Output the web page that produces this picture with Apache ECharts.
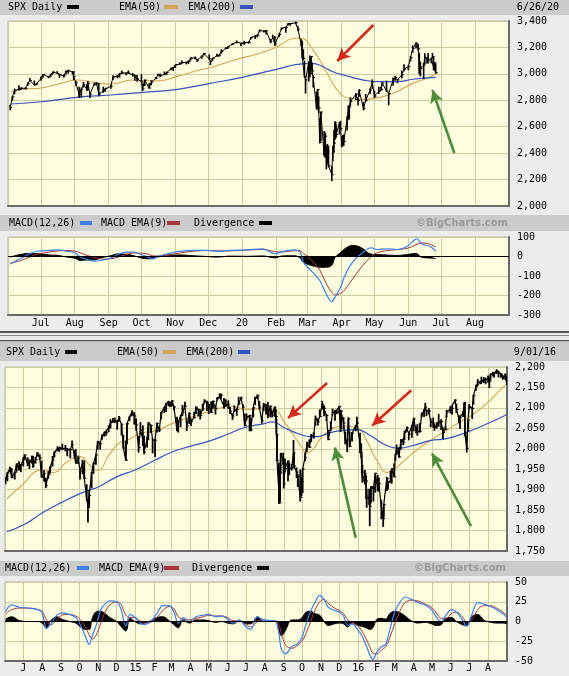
<!DOCTYPE html>
<html><head><meta charset="utf-8">
<script src="https://cdn.jsdelivr.net/npm/echarts@6/dist/echarts.min.js"></script>
<style>html,body{margin:0;padding:0;background:#ececec;}#c{width:569px;height:676px;}</style>
</head><body><div id="c"></div>
<script>
// ---------------- DATA ----------------
const topMonthNames = ['Jan','Feb','Mar','Apr','May','Jun','Jul','Aug','Sep','Oct','Nov','Dec'];
const botMonthNames = ['J','F','M','A','M','J','J','A','S','O','N','D'];
const topPriceTicks = {min: 2000, max: 3400, step: 200};
const topMacdTicks = {min: -300, max: 100, step: 100};
const botPriceTicks = {min: 1750, max: 2200, step: 50};
const botMacdTicks = {min: -50, max: 50, step: 25};
const topRange = ['2019-06-01', '2020-09-01'];
const botRange = ['2014-06-01', '2016-09-01'];

// [date, high, low, close]
const topBars = [
['2019-06-03',2763,2728,2744],['2019-06-05',2827,2800,2826],['2019-06-07',2885,2850,2873],['2019-06-11',2910,2878,2885],
['2019-06-13',2895,2881,2891],['2019-06-17',2895,2885,2890],['2019-06-19',2931,2912,2926],['2019-06-21',2964,2946,2950],
['2019-06-25',2946,2916,2917],['2019-06-27',2929,2918,2924],['2019-07-01',2977,2952,2964],['2019-07-03',2996,2974,2996],
['2019-07-08',2980,2970,2976],['2019-07-10',2997,2980,2993],['2019-07-12',3014,3001,3014],['2019-07-16',3017,3003,3004],
['2019-07-18',2997,2975,2995],['2019-07-22',2990,2976,2985],['2019-07-24',3019,2999,3019],['2019-07-26',3028,3007,3026],
['2019-07-30',3017,3000,3013],['2019-07-31',3017,2958,2980],['2019-08-02',2945,2914,2932],['2019-08-05',2898,2822,2844],
['2019-08-07',2892,2825,2884],['2019-08-09',2935,2900,2919],['2019-08-12',2917,2874,2883],['2019-08-13',2943,2877,2926],
['2019-08-15',2857,2822,2848],['2019-08-19',2931,2913,2924],['2019-08-21',2934,2918,2924],['2019-08-23',2927,2834,2847],
['2019-08-27',2899,2860,2869],['2019-08-29',2890,2870,2888],['2019-09-03',2914,2891,2906],['2019-09-05',2985,2957,2977],
['2019-09-09',2989,2970,2979],['2019-09-11',3002,2976,3001],['2019-09-13',3021,3003,3007],['2019-09-17',3006,2993,3006],
['2019-09-19',3022,3006,3006],['2019-09-23',3003,2983,2992],['2019-09-25',2989,2952,2984],['2019-09-27',2988,2945,2962],
['2019-10-01',2993,2938,2940],['2019-10-02',2925,2874,2887],['2019-10-04',2953,2911,2953],['2019-10-08',2925,2892,2893],
['2019-10-10',2948,2917,2938],['2019-10-14',2972,2962,2966],['2019-10-16',2997,2986,2990],['2019-10-18',2998,2979,2986],
['2019-10-22',3014,2994,2996],['2019-10-24',3012,2998,3010],['2019-10-28',3044,3032,3039],['2019-10-30',3050,3026,3047],
['2019-11-01',3067,3050,3067],['2019-11-05',3084,3072,3075],['2019-11-07',3097,3080,3085],['2019-11-11',3088,3075,3087],
['2019-11-13',3098,3079,3094],['2019-11-15',3120,3104,3120],['2019-11-19',3127,3113,3120],['2019-11-21',3110,3094,3103],
['2019-11-25',3133,3117,3133],['2019-11-27',3154,3143,3154],['2019-12-02',3144,3110,3113],['2019-12-03',3094,3070,3093],
['2019-12-05',3119,3103,3117],['2019-12-09',3148,3135,3136],['2019-12-11',3143,3133,3142],['2019-12-13',3182,3156,3169],
['2019-12-17',3198,3191,3192],['2019-12-19',3206,3192,3205],['2019-12-23',3227,3221,3224],['2019-12-27',3248,3235,3240],
['2019-12-31',3231,3213,3231],['2020-01-03',3246,3223,3235],['2020-01-07',3244,3232,3237],['2020-01-09',3275,3263,3275],
['2020-01-13',3288,3268,3288],['2020-01-15',3298,3280,3289],['2020-01-17',3330,3318,3330],['2020-01-21',3329,3316,3321],
['2020-01-23',3326,3302,3326],['2020-01-27',3259,3235,3244],['2020-01-29',3293,3271,3273],['2020-01-31',3282,3214,3226],
['2020-02-04',3306,3281,3298],['2020-02-06',3347,3334,3345],['2020-02-10',3352,3314,3352],['2020-02-12',3381,3369,3379],
['2020-02-14',3381,3367,3380],['2020-02-19',3393,3378,3386],['2020-02-21',3360,3328,3338],['2020-02-24',3259,3215,3226],
['2020-02-25',3247,3118,3128],['2020-02-26',3182,3108,3116],['2020-02-27',3097,2977,2979],['2020-02-28',2959,2855,2954],
['2020-03-02',3091,2946,3090],['2020-03-03',3136,2976,3003],['2020-03-04',3130,3034,3130],['2020-03-05',3083,2999,3023],
['2020-03-06',2985,2901,2972],['2020-03-09',2863,2734,2746],['2020-03-10',2882,2734,2882],['2020-03-11',2825,2707,2741],
['2020-03-12',2660,2478,2481],['2020-03-13',2711,2493,2711],['2020-03-16',2563,2380,2386],['2020-03-17',2553,2367,2529],
['2020-03-18',2454,2281,2398],['2020-03-19',2466,2319,2409],['2020-03-20',2453,2295,2305],['2020-03-23',2300,2192,2237],
['2020-03-24',2450,2345,2447],['2020-03-25',2571,2407,2476],['2020-03-26',2638,2506,2630],['2020-03-27',2615,2520,2541],
['2020-03-30',2631,2545,2627],['2020-03-31',2641,2571,2585],['2020-04-01',2522,2448,2471],['2020-04-02',2533,2455,2527],
['2020-04-03',2538,2459,2489],['2020-04-06',2676,2575,2664],['2020-04-07',2756,2657,2659],['2020-04-08',2760,2663,2750],
['2020-04-09',2819,2762,2790],['2020-04-14',2851,2805,2846],['2020-04-16',2806,2764,2800],['2020-04-17',2879,2830,2875],
['2020-04-21',2785,2728,2737],['2020-04-23',2844,2791,2798],['2020-04-27',2887,2852,2878],['2020-04-29',2954,2891,2940],
['2020-05-01',2869,2821,2831],['2020-05-05',2898,2852,2868],['2020-05-07',2901,2876,2881],['2020-05-08',2932,2913,2930],
['2020-05-12',2945,2869,2870],['2020-05-14',2853,2766,2852],['2020-05-18',2968,2913,2954],['2020-05-20',2980,2953,2972],
['2020-05-22',2957,2933,2955],['2020-05-26',3021,2969,2992],['2020-05-28',3068,3023,3036],['2020-06-01',3062,3031,3056],
['2020-06-03',3130,3098,3122],['2020-06-05',3211,3163,3193],['2020-06-08',3233,3196,3232],['2020-06-10',3223,3181,3190],
['2020-06-11',3155,3001,3002],['2020-06-12',3088,2984,3041],['2020-06-15',3079,2966,3067],['2020-06-16',3153,3076,3125],
['2020-06-18',3120,3082,3115],['2020-06-19',3155,3083,3098],['2020-06-22',3118,3083,3118],['2020-06-23',3154,3122,3131],
['2020-06-24',3128,3032,3050],['2020-06-25',3083,3024,3083],['2020-06-26',3073,3004,3009]
];
const topEma50 = [
['2019-06-04',2865],['2019-06-16',2885],['2019-07-01',2893],['2019-07-18',2925],['2019-08-03',2953],['2019-08-24',2928],
['2019-09-03',2923],['2019-09-23',2953],['2019-10-15',2946],['2019-11-02',2979],['2019-11-23',3029],['2019-12-06',3054],
['2019-12-25',3105],['2020-01-17',3156],['2020-02-02',3206],['2020-02-18',3269],['2020-02-23',3270],['2020-03-06',3180],
['2020-03-18',3016],['2020-03-28',2878],['2020-04-08',2815],['2020-04-20',2807],['2020-05-06',2822],['2020-05-21',2865],
['2020-06-05',2928],['2020-06-18',2966],['2020-06-26',2999]
];
const topEma200 = [
['2019-06-04',2772],['2019-07-01',2789],['2019-08-03',2822],['2019-09-03',2840],['2019-10-02',2860],['2019-11-03',2883],
['2019-12-03',2928],['2020-01-01',2974],['2020-02-05',3042],['2020-02-19',3070],['2020-03-05',3080],['2020-03-15',3054],
['2020-03-24',3016],['2020-04-06',2984],['2020-04-21',2953],['2020-05-06',2941],['2020-05-22',2941],['2020-06-05',2959],
['2020-06-26',2974]
];
const topMacdDates = [
'2019-06-03','2019-06-12','2019-06-21','2019-06-28','2019-07-09','2019-07-16','2019-07-24','2019-08-01','2019-08-06','2019-08-12',
'2019-08-19','2019-08-27','2019-09-03','2019-09-09','2019-09-17','2019-09-24','2019-10-01','2019-10-07','2019-10-11','2019-10-17',
'2019-10-25','2019-11-05','2019-11-17','2019-11-30','2019-12-09','2019-12-21','2020-01-05','2020-01-20','2020-01-31','2020-02-07',
'2020-02-18','2020-02-23','2020-02-26','2020-03-01','2020-03-07','2020-03-12','2020-03-18','2020-03-23','2020-03-26','2020-03-31',
'2020-04-04','2020-04-11','2020-04-19','2020-04-28','2020-05-03','2020-05-12','2020-05-21','2020-05-31','2020-06-07','2020-06-09',
'2020-06-13','2020-06-21','2020-06-26'];
const topMacd = [-38,-12,14,27,31,34,28,19,-3,-15, -24,-17,-8,9,22,22,9,-3,-12,2, 14,26,31,31,26,31,34,39,14,26,
 34,22,-29,-55,-89,-123,-192,-232,-209,-158, -98,-29,14,45,36,39,36,53,87,91, 65,51,27];
const topSignal = [-35,-22,-2,12,23,28,31,28,19,6, -5,-13,-12,-4,10,18,17,12,4,2, 6,18,27,31,29,29,33,36,25,23,
 30,30,15,0,-35,-70,-140,-185,-197,-190, -170,-115,-55,0,18,30,35,42,58,63, 70,62,48];
const topDiv = [-3,10,16,15,8,6,-2,-9,-20,-18, -17,-4,4,13,12,4,-8,-12,-10,0, 8,8,4,0,-3,2,1,3,-7,3,
 4,-8,-30,-40,-50,-55,-55,-45,-5,20, 40,57,45,12,10,8,5,10,15,14, -4,-8,-10];

const botBars = [
['2014-06-02',1929,1915,1925],['2014-06-05',1942,1922,1941],['2014-06-09',1955,1944,1951],['2014-06-12',1951,1929,1930],
['2014-06-17',1943,1926,1942],['2014-06-20',1963,1945,1963],['2014-06-24',1968,1948,1949],['2014-06-27',1961,1944,1961],
['2014-07-01',1978,1958,1973],['2014-07-03',1985,1975,1985],['2014-07-08',1978,1959,1963],['2014-07-11',1973,1952,1968],
['2014-07-15',1982,1965,1973],['2014-07-17',1982,1955,1958],['2014-07-21',1979,1965,1974],['2014-07-24',1991,1982,1988],
['2014-07-28',1985,1974,1978],['2014-07-31',1970,1930,1931],['2014-08-04',1946,1921,1939],['2014-08-07',1928,1905,1910],
['2014-08-11',1944,1928,1936],['2014-08-14',1955,1940,1955],['2014-08-18',1981,1958,1972],['2014-08-21',1993,1980,1992],
['2014-08-26',2005,1995,2000],['2014-08-29',2004,1994,2003],['2014-09-03',2011,1998,2000],['2014-09-08',2008,1995,2001],
['2014-09-11',1998,1983,1997],['2014-09-16',1999,1978,1998],['2014-09-19',2019,2006,2010],['2014-09-23',1995,1978,1982],
['2014-09-25',1998,1965,1965],['2014-09-29',1982,1964,1977],['2014-10-02',1952,1926,1946],['2014-10-06',1972,1939,1964],
['2014-10-09',1970,1927,1928],['2014-10-13',1912,1874,1874],['2014-10-15',1878,1821,1862],['2014-10-17',1898,1856,1886],
['2014-10-21',1942,1905,1941],['2014-10-24',1965,1940,1964],['2014-10-28',1985,1962,1985],['2014-10-31',2018,1999,2018],
['2014-11-04',2014,1999,2012],['2014-11-07',2034,2023,2032],['2014-11-11',2041,2031,2039],['2014-11-14',2042,2033,2040],
['2014-11-18',2056,2042,2052],['2014-11-21',2071,2051,2064],['2014-11-25',2074,2065,2067],['2014-11-28',2075,2064,2068],
['2014-12-02',2068,2048,2067],['2014-12-05',2079,2068,2075],['2014-12-09',2060,2034,2060],['2014-12-12',2033,2002,2002],
['2014-12-16',2018,1972,1972],['2014-12-18',2062,2012,2061],['2014-12-22',2078,2069,2078],['2014-12-26',2093,2081,2089],
['2014-12-30',2088,2060,2080],['2015-01-02',2073,2046,2058],['2015-01-06',2030,1992,2003],['2015-01-09',2064,2037,2045],
['2015-01-13',2056,2008,2023],['2015-01-15',2031,1988,1992],['2015-01-20',2028,2004,2023],['2015-01-22',2064,2022,2063],
['2015-01-26',2058,2040,2057],['2015-01-29',2024,1990,2021],['2015-02-02',2022,1981,2021],['2015-02-05',2063,2041,2062],
['2015-02-09',2052,2042,2046],['2015-02-12',2089,2073,2088],['2015-02-17',2101,2089,2100],['2015-02-20',2111,2091,2110],
['2015-02-24',2116,2105,2115],['2015-02-27',2113,2103,2105],['2015-03-02',2118,2105,2117],['2015-03-05',2104,2095,2102],
['2015-03-10',2077,2044,2044],['2015-03-12',2066,2041,2065],['2015-03-16',2081,2054,2081],['2015-03-19',2106,2082,2089],
['2015-03-23',2114,2103,2104],['2015-03-26',2067,2045,2056],['2015-03-30',2088,2062,2086],['2015-04-02',2072,2057,2067],
['2015-04-07',2089,2076,2076],['2015-04-10',2102,2086,2102],['2015-04-14',2097,2080,2095],['2015-04-17',2095,2073,2081],
['2015-04-21',2109,2094,2097],['2015-04-24',2120,2112,2117],['2015-04-28',2116,2094,2114],['2015-05-01',2108,2086,2108],
['2015-05-05',2115,2089,2089],['2015-05-08',2117,2099,2116],['2015-05-12',2105,2085,2099],['2015-05-15',2125,2119,2123],
['2015-05-19',2134,2124,2127],['2015-05-21',2134,2122,2131],['2015-05-26',2123,2099,2104],['2015-05-29',2120,2104,2107],
['2015-06-02',2117,2099,2109],['2015-06-05',2101,2086,2092],['2015-06-09',2085,2072,2080],['2015-06-12',2105,2091,2094],
['2015-06-16',2097,2082,2096],['2015-06-19',2126,2108,2110],['2015-06-23',2126,2121,2124],['2015-06-26',2108,2101,2102],
['2015-06-29',2085,2056,2057],['2015-07-02',2085,2071,2077],['2015-07-07',2082,2044,2081],['2015-07-09',2074,2044,2046],
['2015-07-13',2100,2078,2100],['2015-07-16',2126,2108,2124],['2015-07-20',2132,2123,2129],['2015-07-23',2116,2098,2102],
['2015-07-27',2075,2063,2068],['2015-07-30',2111,2093,2109],['2015-08-03',2108,2085,2099],['2015-08-06',2113,2076,2083],
['2015-08-10',2105,2078,2104],['2015-08-13',2092,2078,2083],['2015-08-17',2102,2079,2102],['2015-08-19',2096,2070,2079],
['2015-08-20',2071,2035,2035],['2015-08-21',2034,1971,1971],['2015-08-24',1965,1867,1893],['2015-08-25',1948,1867,1868],
['2015-08-26',1943,1872,1940],['2015-08-27',1989,1942,1988],['2015-08-31',1989,1962,1972],['2015-09-01',1946,1904,1914],
['2015-09-03',1975,1944,1952],['2015-09-08',1970,1922,1970],['2015-09-10',1965,1937,1952],['2015-09-14',1962,1948,1953],
['2015-09-17',2020,1973,1990],['2015-09-18',1989,1953,1958],['2015-09-22',1953,1930,1943],['2015-09-24',1937,1908,1932],
['2015-09-28',1948,1872,1881],['2015-09-30',1925,1885,1920],['2015-10-02',1951,1893,1951],['2015-10-06',1989,1971,1979],
['2015-10-09',2016,1994,2014],['2015-10-13',2022,2003,2004],['2015-10-16',2035,2017,2033],['2015-10-20',2039,2026,2030],
['2015-10-23',2080,2058,2075],['2015-10-27',2073,2058,2066],['2015-10-30',2095,2079,2079],['2015-11-03',2116,2097,2109],
['2015-11-06',2105,2081,2099],['2015-11-10',2084,2069,2081],['2015-11-13',2045,2022,2023],['2015-11-17',2066,2045,2051],
['2015-11-20',2097,2083,2089],['2015-11-24',2094,2070,2089],['2015-11-27',2094,2086,2090],['2015-12-01',2104,2086,2103],
['2015-12-03',2094,2042,2049],['2015-12-04',2093,2051,2092],['2015-12-08',2076,2049,2063],['2015-12-11',2041,2012,2012],
['2015-12-14',2023,1993,2022],['2015-12-16',2076,2042,2073],['2015-12-18',2041,2005,2006],['2015-12-22',2040,2019,2038],
['2015-12-28',2057,2044,2056],['2015-12-30',2077,2061,2063],['2016-01-04',2038,1990,2012],['2016-01-06',2011,1979,1990],
['2016-01-07',1985,1938,1943],['2016-01-08',1960,1918,1922],['2016-01-12',1947,1914,1939],['2016-01-14',1934,1878,1921],
['2016-01-15',1901,1857,1880],['2016-01-19',1901,1864,1881],['2016-01-20',1876,1812,1859],['2016-01-22',1908,1868,1907],
['2016-01-26',1906,1872,1903],['2016-01-29',1940,1894,1940],['2016-02-02',1935,1897,1903],['2016-02-04',1928,1897,1915],
['2016-02-08',1874,1829,1854],['2016-02-11',1848,1810,1829],['2016-02-12',1864,1833,1864],['2016-02-17',1930,1898,1927],
['2016-02-19',1918,1902,1918],['2016-02-23',1945,1918,1921],['2016-02-25',1951,1916,1951],['2016-02-29',1963,1931,1932],
['2016-03-02',1986,1972,1986],['2016-03-04',2009,1989,2000],['2016-03-08',2002,1979,1980],['2016-03-11',2022,1999,2022],
['2016-03-15',2024,2010,2016],['2016-03-17',2043,2022,2040],['2016-03-21',2053,2043,2051],['2016-03-24',2036,2022,2036],
['2016-03-29',2057,2028,2056],['2016-04-01',2075,2044,2073],['2016-04-05',2053,2039,2045],['2016-04-07',2059,2033,2041],
['2016-04-11',2062,2041,2042],['2016-04-14',2087,2078,2083],['2016-04-18',2096,2079,2094],['2016-04-20',2111,2096,2102],
['2016-04-22',2094,2081,2092],['2016-04-26',2098,2085,2092],['2016-04-29',2073,2054,2065],['2016-05-03',2075,2053,2063],
['2016-05-05',2060,2045,2051],['2016-05-09',2064,2051,2059],['2016-05-12',2084,2055,2064],['2016-05-16',2071,2047,2067],
['2016-05-19',2051,2025,2040],['2016-05-23',2055,2047,2048],['2016-05-25',2094,2078,2090],['2016-05-31',2103,2088,2097],
['2016-06-03',2105,2085,2099],['2016-06-08',2120,2112,2119],['2016-06-10',2109,2089,2096],['2016-06-14',2081,2064,2075],
['2016-06-16',2078,2050,2077],['2016-06-21',2091,2079,2088],['2016-06-23',2113,2094,2113],['2016-06-24',2113,2032,2037],
['2016-06-27',2032,1992,2001],['2016-06-29',2070,2044,2070],['2016-07-01',2108,2097,2103],['2016-07-06',2100,2074,2099],
['2016-07-08',2131,2109,2130],['2016-07-12',2155,2143,2152],['2016-07-15',2169,2155,2162],['2016-07-19',2164,2159,2164],
['2016-07-21',2175,2160,2165],['2016-07-25',2174,2162,2169],['2016-07-28',2173,2159,2170],['2016-08-01',2178,2163,2171],
['2016-08-03',2165,2150,2164],['2016-08-05',2183,2168,2183],['2016-08-09',2187,2178,2181],['2016-08-11',2185,2175,2185],
['2016-08-15',2193,2184,2191],['2016-08-18',2188,2176,2187],['2016-08-22',2184,2175,2182],['2016-08-25',2179,2170,2172],
['2016-08-29',2183,2170,2180],['2016-08-31',2177,2165,2171],['2016-09-01',2173,2157,2170]
];
const botEma50 = [
['2014-06-04',1877],['2014-06-25',1906],['2014-08-02',1948],['2014-08-19',1942],['2014-09-10',1967],['2014-10-02',1981],
['2014-10-18',1959],['2014-10-30',1947],['2014-11-20',1988],['2014-12-07',2016],['2014-12-18',2020],['2015-01-08',2037],
['2015-02-05',2045],['2015-03-10',2067],['2015-04-05',2078],['2015-05-08',2094],['2015-06-05',2104],['2015-07-03',2096],
['2015-07-29',2098],['2015-08-18',2094],['2015-09-02',2065],['2015-09-16',2035],['2015-09-30',2005],['2015-10-08',1990],
['2015-10-20',2000],['2015-10-31',2025],['2015-11-15',2045],['2015-12-07',2055],['2015-12-30',2052],['2016-01-15',2020],
['2016-01-25',1989],['2016-02-01',1971],['2016-02-17',1942],['2016-03-04',1955],['2016-03-26',1984],['2016-04-16',2008],
['2016-04-28',2020],['2016-05-25',2045],['2016-06-21',2070],['2016-07-02',2078],['2016-07-30',2111],['2016-08-26',2152],
['2016-09-01',2158]
];
const botEma200 = [
['2014-06-04',1797],['2014-07-04',1816],['2014-08-02',1844],['2014-09-02',1869],['2014-09-30',1889],['2014-10-17',1899],
['2014-10-31',1906],['2014-12-02',1932],['2014-12-31',1948],['2015-01-30',1970],['2015-03-02',1992],['2015-03-31',2006],
['2015-04-30',2018],['2015-05-31',2035],['2015-06-29',2052],['2015-07-29',2061],['2015-08-14',2066],['2015-09-01',2052],
['2015-10-02',2033],['2015-10-19',2029],['2015-11-27',2043],['2015-12-30',2047],['2016-01-20',2033],['2016-02-17',2008],
['2016-03-09',2002],['2016-03-31',2008],['2016-04-28',2020],['2016-05-25',2025],['2016-06-21',2037],['2016-07-24',2057],
['2016-09-01',2084]
];
const botMacdDates = [
'2014-06-02','2014-06-12','2014-06-25','2014-07-10','2014-07-25','2014-08-01','2014-08-08','2014-08-15','2014-08-25','2014-09-02',
'2014-09-15','2014-09-25','2014-10-03','2014-10-10','2014-10-17','2014-10-22','2014-10-28','2014-11-05','2014-11-12','2014-11-20',
'2014-12-01','2014-12-08','2014-12-16','2014-12-23','2014-12-31','2015-01-08','2015-01-16','2015-01-26','2015-02-05','2015-02-15',
'2015-02-25','2015-03-05','2015-03-12','2015-03-20','2015-03-30','2015-04-10','2015-04-22','2015-05-01','2015-05-12','2015-05-22',
'2015-06-01','2015-06-10','2015-06-20','2015-06-30','2015-07-09','2015-07-20','2015-07-30','2015-08-10','2015-08-18','2015-08-24',
'2015-08-28','2015-09-04','2015-09-14','2015-09-24','2015-10-01','2015-10-08','2015-10-15','2015-10-22','2015-10-30','2015-11-06',
'2015-11-13','2015-11-23','2015-12-01','2015-12-08','2015-12-15','2015-12-22','2015-12-31','2016-01-07','2016-01-14','2016-01-20',
'2016-01-25','2016-02-01','2016-02-08','2016-02-15','2016-02-22','2016-03-01','2016-03-10','2016-03-18','2016-03-28','2016-04-08',
'2016-04-20','2016-04-30','2016-05-08','2016-05-16','2016-05-24','2016-06-02','2016-06-10','2016-06-20','2016-06-27','2016-07-05',
'2016-07-15','2016-07-25','2016-08-05','2016-08-15','2016-08-25','2016-09-01'];
const botMacd = [13,21,18,17,15,11,-9,-3,8,11, 9,5,-5,-17,-29,-18,-6,15,22,26, 25,16,-6,9,5,-2,-4,0,10,20,
 20,12,-2,5,0,6,8,9,6,7, 3,-2,2,-6,-10,6,2,1,1,-15, -35,-41,-32,-28,-20,-2,13,24,33,28,
 18,14,12,7,-5,-3,-10,-18,-30,-42, -48,-38,-32,-29,-10,12,25,31,28,24, 21,15,6,0,8,15,12,2,-6,8, 24,22,19,15,10,5];
const botSignal = [10,15,17,17,15,13,2,-4,2,8, 9,7,2,-6,-17,-22,-18,-2,12,21, 25,22,8,5,5,1,-2,-1,5,14,
 19,16,6,3,2,4,6,8,7,7, 5,1,1,-3,-7,0,2,1,1,-4, -15,-30,-34,-30,-25,-14,0,14,25,28,
 23,17,14,10,2,-1,-5,-12,-22,-32, -40,-41,-36,-32,-20,-3,14,24,27,26, 22,18,11,4,4,10,12,6,-1,2, 15,20,20,17,12,8];
const botDiv = [3,6,1,0,0,-2,-8,1,6,3, 0,-2,-7,-10,-10,4,12,13,10,5, 0,-6,-12,4,0,-3,-2,1,5,6,
 1,-4,-8,2,-2,2,2,1,-1,0, -2,-3,1,-3,-3,6,0,0,0,-11, -18,-11,2,2,5,12,13,10,8,0,
 -5,-3,-2,-3,-7,-2,-5,-6,-8,-10, -8,3,4,3,10,13,11,7,1,-2, -1,-3,-5,-4,4,5,0,-4,-5,6, 9,2,-1,-2,-2,-3];

// annotation arrows, in data coordinates [date, price]
const RED = '#d42a1e', GREEN = '#4e8c3a';
const topArrows = [
  {from: ['2020-04-30', 3370], to: ['2020-03-28', 3097], color: RED},
  {from: ['2020-07-13', 2401], to: ['2020-06-23', 2878], color: GREEN}
];
const botArrows = [
  {from: ['2015-11-11', 2161], to: ['2015-09-08', 2075], color: RED},
  {from: ['2016-03-28', 2143], to: ['2016-01-24', 2057], color: RED},
  {from: ['2015-12-28', 1782], to: ['2015-11-24', 2003], color: GREEN},
  {from: ['2016-07-04', 1811], to: ['2016-05-01', 1989], color: GREEN}
];

// ---------------- STYLE ----------------
const DAY = 86400000;
const MONO = 'DejaVu Sans Mono';
const PLOT_BG = '#fdfddf', GRID_C = '#cdcda4', BORDER_C = '#b4b4a0', AXIS_C = '#6a6a6a';
const EMA50_C = '#d6a552', EMA200_C = '#3552c0', MACD_C = '#3d7ff0', SIG_C = '#a8343e';

const chart = echarts.init(document.getElementById('c'), null, {width: 569, height: 676});

function localTs(s) { const p = s.split('-').map(Number); return new Date(p[0], p[1] - 1, p[2]).getTime(); }
function yearLbl(d) { return String(d.getFullYear()).slice(2); }
function monthFmt(names, range) {
  const lo = localTs(range[0]), hi = localTs(range[1]);
  return v => {
    if (v <= lo + DAY / 2 || v >= hi - DAY / 2) return '';
    const d = new Date(v);
    return d.getMonth() === 0 ? yearLbl(d) : names[d.getMonth()];
  };
}
const fmtNum = v => String(v).replace(/\B(?=(\d{3})+(?!\d))/g, ',');

function grid(left, top, width, height) {
  return {left, top, width, height, show: true, backgroundColor: PLOT_BG, borderColor: BORDER_C, borderWidth: 1,
          containLabel: false, outerBoundsMode: 'none'};
}
function xAx(gi, range, showLabel, fmt, margin) {
  return {type: 'time', gridIndex: gi, min: range[0], max: range[1], splitNumber: 40,
    minInterval: 27 * DAY, maxInterval: 31 * DAY,
    axisLine: {show: true, onZero: false, lineStyle: {color: AXIS_C, width: 2}},
    axisTick: {show: false},
    splitLine: {show: true, lineStyle: {color: GRID_C, width: 1}},
    axisLabel: {show: showLabel, formatter: fmt, fontFamily: MONO, fontSize: 10, color: '#000', margin: margin || 3,
      hideOverlap: false}
  };
}
function yAx(gi, t) {
  return {type: 'value', gridIndex: gi, position: 'right', min: t.min, max: t.max, interval: t.step,
    axisLine: {show: true, onZero: false, lineStyle: {color: AXIS_C, width: 2}},
    axisTick: {show: false},
    splitLine: {show: true, lineStyle: {color: GRID_C, width: 1}},
    axisLabel: {margin: 8, fontFamily: MONO, fontSize: 10, color: '#000', formatter: fmtNum}
  };
}
function barSeries(i, rows, w) {
  return {type: 'custom', xAxisIndex: i, yAxisIndex: i, clip: true, z: 4, silent: true,
    encode: {x: 0, y: [1, 2]}, data: rows,
    renderItem: (params, api) => {
      const t = api.value(0);
      const hi = api.coord([t, api.value(1)]), lo = api.coord([t, api.value(2)]), cl = api.coord([t, api.value(3)]);
      return {type: 'group', children: [
        {type: 'line', shape: {x1: hi[0], y1: hi[1] - 0.5, x2: lo[0], y2: lo[1] + 0.5}, style: {stroke: '#000', lineWidth: w}},
        {type: 'line', shape: {x1: cl[0], y1: cl[1], x2: cl[0] + 2, y2: cl[1]}, style: {stroke: '#000', lineWidth: 1}}
      ]};
    }};
}
function lineS(i, data, color, width, z, smooth, extra) {
  return Object.assign({type: 'line', xAxisIndex: i, yAxisIndex: i, data, showSymbol: false, symbol: 'none',
    smooth: smooth, z: z, silent: true, lineStyle: {color, width}, itemStyle: {color}}, extra || {});
}
function arrowMark(arrows) {
  return {silent: true, symbol: ['none', 'arrow'], symbolSize: [10, 13], label: {show: false}, animation: false,
    data: arrows.map(a => [{coord: a.from, lineStyle: {color: a.color, width: 2.6, type: 'solid'}, itemStyle: {color: a.color}},
                           {coord: a.to}])};
}
const zeroMark = {silent: true, symbol: 'none', label: {show: false}, animation: false,
  lineStyle: {color: '#000', width: 1, type: 'solid'}, data: [{yAxis: 0}]};
const zip = (dates, vals) => dates.map((d, k) => [d, vals[k]]);

function macdSeries(i, dates, m, s, dv) {
  return [
    lineS(i, zip(dates, dv), '#000', 1, 2, 0.4, {areaStyle: {color: '#000', opacity: 1}, markLine: zeroMark}),
    lineS(i, zip(dates, s), SIG_C, 1, 3, 0.35),
    lineS(i, zip(dates, m), MACD_C, 1.2, 4, 0.35)
  ];
}

// ---------------- HEADERS (text) ----------------
function T(x, y, text, o) {
  o = o || {};
  return {type: 'text', x, y, z: 10, style: {text, font: o.font || ('10px "' + MONO + '"'), fill: o.fill || '#000',
    align: o.align || 'left', verticalAlign: 'middle'}};
}
function R(x, y, w, h, fill) { return {type: 'rect', z: 1, shape: {x, y, width: w, height: h}, style: {fill}}; }
const BIG = 'bold 10px "DejaVu Sans"';
const graphics = [
  R(0, 0, 569, 15, '#cbcbcb'),
  T(8, 7.5, 'SPX Daily'), R(67, 5, 12, 4, '#000'),
  T(119, 7.5, 'EMA(50)'), R(164, 5, 14, 4, EMA50_C),
  T(188, 7.5, 'EMA(200)'), R(240, 5, 13, 4, EMA200_C),
  T(559, 7.5, '6/26/20', {align: 'right'}),
  R(0, 215, 569, 16, '#cbcbcb'),
  T(9, 223, 'MACD(12,26)'), R(80, 221, 12, 4, MACD_C),
  T(101, 223, 'MACD EMA(9)'), R(167, 221, 13, 4, SIG_C),
  T(194, 223, 'Divergence'), R(259, 221, 13, 4, '#000'),
  T(508, 223, '\u00A9BigCharts.com', {align: 'right', font: BIG, fill: '#9a9a9a'}),
  R(0, 331, 569, 2, '#555'), R(0, 335, 569, 1, '#8a8a8a'),
  R(0, 340, 569, 1.5, '#555'), R(0, 341.5, 569, 19.5, '#cbcbcb'),
  T(6, 352, 'SPX Daily'), R(65, 350, 12, 4, '#000'),
  T(117, 352, 'EMA(50)'), R(163, 350, 13, 4, EMA50_C),
  T(186, 352, 'EMA(200)'), R(238, 350, 12, 4, EMA200_C),
  T(556, 352, '9/01/16', {align: 'right'}),
  R(0, 561, 569, 15, '#cbcbcb'),
  T(5, 568, 'MACD(12,26)'), R(77, 566, 12, 4, MACD_C),
  T(99, 568, 'MACD EMA(9)'), R(164, 566, 15, 4, SIG_C),
  T(192, 568, 'Divergence'), R(257, 566, 12, 4, '#000'),
  T(506, 568, '\u00A9BigCharts.com', {align: 'right', font: BIG, fill: '#9a9a9a'})
];

const option = {
  animation: false,
  backgroundColor: '#ececec',
  graphic: {elements: graphics},
  grid: [grid(8, 21, 501, 185), grid(8, 237, 501, 78), grid(5, 367, 502, 184), grid(5, 582, 502, 79)],
  xAxis: [xAx(0, topRange, false), xAx(1, topRange, true, monthFmt(topMonthNames, topRange), 3),
          xAx(2, botRange, false), xAx(3, botRange, true, monthFmt(botMonthNames, botRange), 2)],
  yAxis: [yAx(0, topPriceTicks), yAx(1, topMacdTicks), yAx(2, botPriceTicks), yAx(3, botMacdTicks)],
  series: [
    lineS(0, topEma50, EMA50_C, 1.1, 2, 0.5),
    lineS(0, topEma200, EMA200_C, 1.2, 2, 0.5),
    lineS(0, topBars.map(r => [r[0], r[3]]), '#000', 1, 3, false),
    barSeries(0, topBars, 1.6),
    lineS(0, [], '#000', 1, 8, false, {markLine: arrowMark(topArrows)}),
    ...macdSeries(1, topMacdDates, topMacd, topSignal, topDiv),
    lineS(2, botEma50, EMA50_C, 1.1, 2, 0.5),
    lineS(2, botEma200, EMA200_C, 1.2, 2, 0.5),
    lineS(2, botBars.map(r => [r[0], r[3]]), '#000', 1.2, 3, false),
    barSeries(2, botBars, 1.8),
    lineS(2, [], '#000', 1, 8, false, {markLine: arrowMark(botArrows)}),
    ...macdSeries(3, botMacdDates, botMacd, botSignal, botDiv)
  ]
};
chart.setOption(option);
</script></body></html>
